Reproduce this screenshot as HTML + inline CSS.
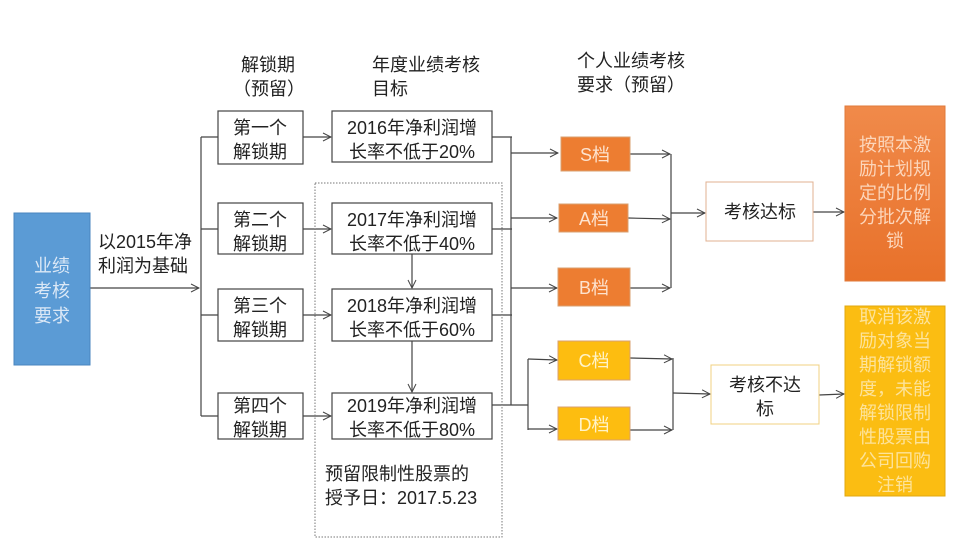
<!DOCTYPE html>
<html><head><meta charset="utf-8"><style>
body{margin:0;background:#fff;}
svg{display:block;font-family:"Liberation Sans","Noto Sans CJK SC",sans-serif;}
</style></head><body>
<svg width="975" height="559" viewBox="0 0 975 559" xmlns="http://www.w3.org/2000/svg">
<defs>
<marker id="a" markerWidth="10" markerHeight="10" refX="9" refY="5" orient="auto" markerUnits="userSpaceOnUse">
<path d="M1,1 L9,5 L1,9" fill="none" stroke="#444" stroke-width="1"/></marker>
<linearGradient id="og" x1="0" y1="0" x2="0" y2="1"><stop offset="0" stop-color="#f08a4a"/><stop offset="1" stop-color="#e8712a"/></linearGradient>
</defs>
<g stroke="#444" stroke-width="1.2" fill="none">
<line x1="90" y1="288" x2="199" y2="288" marker-end="url(#a)"/>
<line x1="201" y1="137" x2="201" y2="416"/>
<line x1="201" y1="137" x2="218" y2="137"/>
<line x1="201" y1="229" x2="218" y2="229"/>
<line x1="201" y1="315" x2="218" y2="315"/>
<line x1="201" y1="416" x2="218" y2="416"/>
<line x1="303" y1="137" x2="331" y2="137" marker-end="url(#a)"/>
<line x1="303" y1="229" x2="331" y2="229" marker-end="url(#a)"/>
<line x1="303" y1="315" x2="331" y2="315" marker-end="url(#a)"/>
<line x1="303" y1="416" x2="331" y2="416" marker-end="url(#a)"/>
<line x1="412" y1="254" x2="412" y2="288" marker-end="url(#a)"/>
<line x1="412" y1="341" x2="412" y2="392" marker-end="url(#a)"/>
<line x1="492" y1="137" x2="512" y2="137"/>
<line x1="492" y1="229" x2="512" y2="229"/>
<line x1="492" y1="315" x2="512" y2="315"/>
<line x1="492" y1="405" x2="528" y2="405"/>
<line x1="511" y1="137" x2="511" y2="405"/>
<line x1="511" y1="153" x2="558" y2="153" marker-end="url(#a)"/>
<line x1="511" y1="218" x2="557" y2="218" marker-end="url(#a)"/>
<line x1="511" y1="288" x2="557" y2="288" marker-end="url(#a)"/>
<line x1="528" y1="359" x2="528" y2="430"/>
<line x1="528" y1="359" x2="557" y2="360" marker-end="url(#a)"/>
<line x1="528" y1="429" x2="557" y2="429" marker-end="url(#a)"/>
<line x1="630" y1="154" x2="670" y2="154" marker-end="url(#a)"/>
<line x1="628" y1="218" x2="670" y2="219" marker-end="url(#a)"/>
<line x1="630" y1="288" x2="670" y2="288" marker-end="url(#a)"/>
<line x1="671" y1="154" x2="671" y2="288"/>
<line x1="671" y1="213" x2="705" y2="213" marker-end="url(#a)"/>
<line x1="630" y1="358" x2="672" y2="359" marker-end="url(#a)"/>
<line x1="630" y1="430" x2="672" y2="430" marker-end="url(#a)"/>
<line x1="673" y1="358" x2="673" y2="430"/>
<line x1="673" y1="393" x2="710" y2="394" marker-end="url(#a)"/>
<line x1="813" y1="212" x2="844" y2="212" marker-end="url(#a)"/>
<line x1="819" y1="395" x2="844" y2="394" marker-end="url(#a)"/>
</g>
<rect x="315" y="183" width="187" height="354" fill="none" stroke="#777" stroke-width="1" stroke-dasharray="1.5,1.5"/>
<rect x="14" y="213" width="76" height="152" fill="#5b9bd5" stroke="#4a86bf"/>
<g fill="#dbe8f6" font-size="18" text-anchor="middle">
<text x="52" y="272">业绩</text><text x="52" y="297">考核</text><text x="52" y="322">要求</text></g>
<g fill="#222" font-size="18">
<text x="98" y="248">以2015年净</text><text x="98" y="272">利润为基础</text>
<text x="241" y="71">解锁期</text><text x="233" y="95">（预留）</text>
<text x="372" y="71">年度业绩考核</text><text x="372" y="95">目标</text>
<text x="577" y="67">个人业绩考核</text><text x="577" y="91">要求（预留）</text>
<text x="325" y="480">预留限制性股票的</text><text x="325" y="504">授予日：2017.5.23</text>
</g>
<g fill="#fff" stroke="#444" stroke-width="1.2">
<rect x="218" y="111" width="85" height="53"/><rect x="218" y="203" width="85" height="51"/>
<rect x="218" y="289" width="85" height="52"/><rect x="218" y="393" width="85" height="46"/>
<rect x="332" y="111" width="160" height="51"/><rect x="332" y="203" width="160" height="51"/>
<rect x="332" y="289" width="160" height="52"/><rect x="332" y="393" width="160" height="46"/>
</g>
<g fill="#222" font-size="18" text-anchor="middle">
<text x="260" y="134">第一个</text><text x="260" y="158">解锁期</text>
<text x="260" y="226">第二个</text><text x="260" y="250">解锁期</text>
<text x="260" y="312">第三个</text><text x="260" y="336">解锁期</text>
<text x="260" y="412">第四个</text><text x="260" y="436">解锁期</text>
<text x="412" y="134">2016年净利润增</text><text x="412" y="158">长率不低于20%</text>
<text x="412" y="226">2017年净利润增</text><text x="412" y="250">长率不低于40%</text>
<text x="412" y="312">2018年净利润增</text><text x="412" y="336">长率不低于60%</text>
<text x="412" y="412">2019年净利润增</text><text x="412" y="436">长率不低于80%</text>
</g>
<g stroke="#d9a070" stroke-width="1">
<rect x="561" y="137" width="69" height="34" fill="#ed7d31"/>
<rect x="559" y="204" width="69" height="28" fill="#ed7d31"/>
<rect x="558" y="268" width="72" height="38" fill="#ed7d31"/>
<rect x="558" y="341" width="72" height="39" fill="#fdbd10"/>
<rect x="558" y="407" width="72" height="33" fill="#fdbd10"/>
</g>
<g fill="#fde3cf" font-size="18" text-anchor="middle">
<text x="595" y="161">S档</text><text x="594" y="225">A档</text><text x="594" y="294">B档</text>
<text x="594" y="367" fill="#fff3c8">C档</text><text x="594" y="431" fill="#fff3c8">D档</text>
</g>
<rect x="706" y="182" width="107" height="59" fill="#fff" stroke="#e0b090"/>
<rect x="711" y="365" width="108" height="59" fill="#fff" stroke="#f0d080"/>
<g fill="#222" font-size="18" text-anchor="middle">
<text x="760" y="218">考核达标</text>
<text x="765" y="391">考核不达</text><text x="765" y="415">标</text></g>
<rect x="845" y="106" width="100" height="175" fill="url(#og)" stroke="#e07a3a"/>
<rect x="845" y="306" width="100" height="190" fill="#fbbd12" stroke="#e0a810"/>
<g fill="#fcd6bb" font-size="18" text-anchor="middle">
<text x="895" y="151">按照本激</text><text x="895" y="175">励计划规</text><text x="895" y="199">定的比例</text><text x="895" y="223">分批次解</text><text x="895" y="247">锁</text></g>
<g fill="#fde39a" font-size="18" text-anchor="middle">
<text x="895" y="323">取消该激</text><text x="895" y="347">励对象当</text><text x="895" y="371">期解锁额</text><text x="895" y="395">度，未能</text><text x="895" y="419">解锁限制</text><text x="895" y="443">性股票由</text><text x="895" y="467">公司回购</text><text x="895" y="491">注销</text></g>
</svg>
</body></html>
